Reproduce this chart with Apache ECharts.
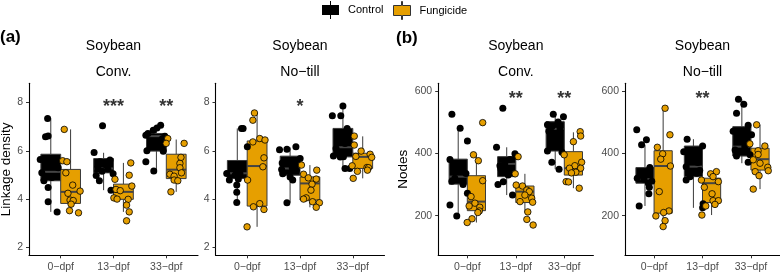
<!DOCTYPE html>
<html><head><meta charset="utf-8">
<script src="https://cdn.jsdelivr.net/npm/echarts@6/dist/echarts.min.js"></script>
<style>html,body{margin:0;padding:0;background:#fff}#chart{width:780px;height:272px}</style>
</head><body><div id="chart"></div>
<script>
// ---------- data ----------
const categories = ['0−dpf', '13−dpf', '33−dpf'];
const groups = ['Control', 'Fungicide'];
const panelTitles = ['Soybean\nConv.', 'Soybean\nNo−till', 'Soybean\nConv.', 'Soybean\nNo−till'];
const panelLetters = ['(a)', '(b)'];
const yNames = ['Linkage density', 'Nodes'];
const yTicksLinkage = [2, 4, 6, 8];
const yTicksNodes = [200, 400, 600];

// box statistics per category: [min, q1, median, q3, max]
const linkConvControlBox = [[3.47, 4.76, 5.13, 5.86, 7.34], [4.37, 5.09, 5.27, 5.68, 5.92], [5.16, 5.99, 6.61, 6.72, 7.06]];
const linkConvFungBox = [[3.43, 3.82, 4.30, 5.23, 6.89], [3.47, 3.99, 4.30, 4.62, 5.50], [4.30, 4.85, 5.22, 5.86, 6.47]];
const linkNoTillControlBox = [[3.86, 4.85, 5.07, 5.60, 6.93], [3.85, 4.99, 5.27, 5.78, 6.14], [5.24, 5.75, 6.15, 6.93, 7.86]];
const linkNoTillFungBox = [[2.85, 3.71, 5.37, 6.41, 7.57], [3.66, 3.96, 4.65, 4.92, 5.41], [4.86, 5.27, 5.75, 5.90, 6.60]];
const nodesConvControlBox = [[199, 301, 325, 381, 482], [266, 325, 366, 389, 419], [349, 407, 478, 501, 525]];
const nodesConvFungBox = [[178, 216, 245, 328, 395], [210, 242, 277, 295, 334], [288, 330, 352, 405, 467]];
const nodesNoTillControlBox = [[231, 304, 317, 354, 427], [225, 325, 357, 423, 445], [368, 391, 421, 485, 573]];
const nodesNoTillFungBox = [[165, 208, 359, 408, 544], [202, 242, 304, 320, 341], [285, 346, 381, 416, 491]];

const linkConvControlPts = [
  [7.34, 6.62, 6.58, 5.64, 5.5, 5.3, 5.09, 4.9, 4.76, 4.48, 3.89, 3.47],
  [7.04, 5.93, 5.62, 5.55, 5.4, 5.3, 5.25, 5.15, 5.05, 4.98, 4.76, 4.37],
  [7.06, 6.95, 6.85, 6.72, 6.65, 6.6, 6.5, 6.31, 6.0, 5.98, 5.55, 5.16]];
const linkConvControlJit = [
  [-0.06, -0.05, -0.10, -0.20, 0.08, 0.14, -0.17, 0.02, -0.13, -0.05, -0.05, 0.12],
  [-0.02, -0.18, 0.12, -0.07, 0.05, -0.11, 0.08, -0.03, 0.18, -0.14, -0.08, 0.14],
  [0.08, 0.01, -0.06, -0.16, -0.20, 0.16, 0.11, 0.16, -0.18, 0.13, -0.20, -0.05]];
const linkConvFungPts = [
  [6.89, 5.59, 5.55, 5.09, 4.58, 4.33, 4.24, 3.96, 3.94, 3.79, 3.52, 3.43],
  [5.50, 4.99, 4.82, 4.54, 4.40, 4.35, 4.05, 4.0, 3.99, 3.75, 3.47, 3.10],
  [6.51, 6.31, 6.31, 5.73, 5.48, 5.3, 5.09, 5.03, 4.95, 4.79, 4.76, 4.30]];
const linkConvFungJit = [
  [-0.12, -0.15, -0.07, -0.09, 0.04, 0.18, -0.05, -0.01, 0.05, 0.01, -0.02, 0.15],
  [0.14, 0.11, -0.16, 0.16, -0.14, -0.06, -0.18, -0.12, 0.09, 0.06, 0.11, 0.06],
  [-0.16, -0.19, 0.15, 0.09, 0.07, 0.07, 0.10, -0.12, -0.04, -0.04, 0.03, -0.10]];

const linkNoTillControlPts = [
  [6.93, 6.93, 6.17, 5.4, 5.06, 5.06, 5.0, 4.83, 4.79, 4.58, 4.28, 3.86],
  [6.17, 6.07, 6.05, 5.68, 5.5, 5.3, 5.23, 5.2, 5.05, 4.92, 4.79, 3.85],
  [7.86, 7.45, 7.45, 6.93, 6.6, 6.3, 6.1, 5.79, 5.76, 5.75, 5.27, 5.27]];
const linkNoTillControlJit = [
  [0.08, 0.11, 0.19, -0.08, -0.20, 0.05, -0.04, 0.02, -0.15, -0.01, -0.01, -0.01],
  [0.11, -0.06, -0.20, 0.19, -0.15, 0.04, -0.16, 0.12, -0.14, 0.0, 0.05, -0.06],
  [0.0, -0.20, -0.04, 0.08, -0.09, 0.04, -0.13, -0.18, 0.01, -0.05, 0.04, 0.13]];
const linkNoTillFungPts = [
  [7.57, 7.27, 6.51, 6.45, 6.37, 5.71, 5.34, 4.79, 3.81, 3.68, 3.57, 2.85],
  [5.41, 5.2, 5.03, 4.88, 4.83, 4.62, 4.37, 4.05, 4.0, 3.89, 3.85, 3.66],
  [6.61, 6.24, 5.99, 5.86, 5.77, 5.73, 5.38, 5.31, 5.3, 5.2, 5.15, 4.86]];
const linkNoTillFungJit = [
  [-0.05, -0.08, 0.05, 0.15, -0.08, 0.13, 0.11, -0.18, 0.05, -0.07, 0.13, -0.19],
  [-0.16, 0.13, -0.12, -0.03, 0.12, 0.04, 0.02, -0.07, -0.12, 0.05, 0.18, 0.12],
  [-0.16, -0.16, -0.03, 0.14, -0.13, 0.17, -0.20, 0.08, 0.11, 0.09, -0.10, -0.18]];

const nodesConvControlPts = [
  [525, 480, 439, 380, 355, 335, 320, 310, 300, 272, 234, 199],
  [544, 419, 398, 390, 380, 366, 360, 350, 330, 309, 300, 266],
  [525, 517, 500, 491, 485, 478, 470, 455, 407, 403, 371, 349]];
const nodesConvControlJit = [
  [-0.13, 0.04, 0.19, -0.17, 0.08, 0.16, -0.07, -0.13, 0.10, 0.19, -0.17, -0.03],
  [-0.08, -0.21, 0.17, 0.19, 0.07, -0.04, -0.14, -0.12, 0.03, -0.07, -0.18, 0.12],
  [-0.04, 0.17, 0.06, -0.16, -0.07, 0.10, -0.13, 0.02, -0.16, 0.14, -0.07, 0.08]];
const nodesConvFungPts = [
  [498, 395, 376, 312, 261, 240, 231, 227, 215, 210, 190, 178],
  [389, 334, 298, 295, 282, 277, 266, 256, 245, 243, 212, 188, 170],
  [469, 455, 437, 395, 371, 360, 352, 352, 339, 337, 309, 308, 288]];
const nodesConvFungJit = [
  [0.13, -0.06, 0.04, 0.13, -0.11, -0.03, -0.15, 0.07, 0.06, 0.03, -0.09, -0.19],
  [-0.14, -0.20, -0.18, -0.05, 0.04, 0.09, 0.0, 0.14, -0.10, 0.16, 0.06, 0.04, 0.17],
  [0.14, 0.15, 0.0, -0.19, 0.17, 0.03, -0.08, 0.15, 0.05, -0.04, -0.15, -0.10, 0.12]];

const nodesNoTillControlPts = [
  [475, 443, 427, 354, 330, 320, 317, 310, 304, 291, 270, 231],
  [445, 423, 405, 390, 370, 357, 345, 336, 325, 314, 238, 225],
  [573, 557, 528, 490, 470, 459, 440, 421, 410, 395, 391, 371]];
const nodesNoTillControlJit = [
  [-0.17, 0.03, -0.07, 0.10, -0.10, -0.16, -0.02, 0.14, 0.07, 0.09, 0.08, -0.12],
  [-0.13, 0.19, -0.20, -0.07, 0.09, -0.15, 0.13, 0.07, -0.07, -0.15, 0.20, 0.19],
  [-0.07, 0.04, -0.11, 0.13, -0.18, 0.20, -0.04, 0.06, -0.14, 0.17, -0.11, 0.13]];
const nodesNoTillFungPts = [
  [544, 459, 419, 398, 381, 359, 277, 215, 210, 199, 184, 165],
  [341, 334, 325, 314, 309, 291, 270, 248, 248, 236, 231, 202],
  [491, 430, 423, 408, 396, 379, 368, 355, 344, 341, 328, 285]];
const nodesNoTillFungJit = [
  [0.04, 0.14, -0.12, -0.01, -0.05, 0.15, -0.08, 0.12, 0.01, -0.15, 0.04, 0.0],
  [0.10, -0.02, 0.03, -0.21, 0.14, -0.15, 0.01, 0.03, 0.14, 0.07, -0.12, -0.20],
  [-0.07, -0.21, 0.10, -0.04, -0.04, -0.14, 0.0, 0.16, 0.17, -0.10, -0.02, -0.14]];

// significance labels per category, and the value at which they sit
const sigLinkConv = ['', '***', '**'];
const sigLinkNoTill = ['', '*', ''];
const sigNodesConv = ['', '**', '**'];
const sigNodesNoTill = ['', '**', ''];
const sigLinkY = 8;
const sigNodesY = 586;

// ---------- layout / styling ----------
const FONT = '"Liberation Sans", Arial, Helvetica, sans-serif';
const fillColors = { Control: '#000000', Fungicide: '#E69F00' };
const lineColor = '#3a3a3a';
const dodge = { Control: -0.1875, Fungicide: 0.1875 };
const halfBox = 0.1875;

const panels = [
  { title: panelTitles[0], left: 29, width: 169, yMin: 1.67, yMax: 8.8, ticks: yTicksLinkage, yName: yNames[0], nameGap: 14,
    box: { Control: linkConvControlBox, Fungicide: linkConvFungBox },
    pts: { Control: linkConvControlPts, Fungicide: linkConvFungPts },
    jit: { Control: linkConvControlJit, Fungicide: linkConvFungJit }, sig: sigLinkConv, sigY: sigLinkY },
  { title: panelTitles[1], left: 215.5, width: 169, yMin: 1.67, yMax: 8.8, ticks: yTicksLinkage, yName: '', nameGap: 0,
    box: { Control: linkNoTillControlBox, Fungicide: linkNoTillFungBox },
    pts: { Control: linkNoTillControlPts, Fungicide: linkNoTillFungPts },
    jit: { Control: linkNoTillControlJit, Fungicide: linkNoTillFungJit }, sig: sigLinkNoTill, sigY: sigLinkY },
  { title: panelTitles[2], left: 438.2, width: 155.2, yMin: 73, yMax: 624, ticks: yTicksNodes, yName: yNames[1], nameGap: 27,
    box: { Control: nodesConvControlBox, Fungicide: nodesConvFungBox },
    pts: { Control: nodesConvControlPts, Fungicide: nodesConvFungPts },
    jit: { Control: nodesConvControlJit, Fungicide: nodesConvFungJit }, sig: sigNodesConv, sigY: sigNodesY },
  { title: panelTitles[3], left: 625, width: 155, yMin: 73, yMax: 624, ticks: yTicksNodes, yName: '', nameGap: 0,
    box: { Control: nodesNoTillControlBox, Fungicide: nodesNoTillFungBox },
    pts: { Control: nodesNoTillControlPts, Fungicide: nodesNoTillFungPts },
    jit: { Control: nodesNoTillControlJit, Fungicide: nodesNoTillFungJit }, sig: sigNodesNoTill, sigY: sigNodesY }
];

function makeBoxRenderer(fill) {
  return function (params, api) {
    const x = api.value(0);
    const pMin = api.coord([x, api.value(1)]);
    const pQ1 = api.coord([x, api.value(2)]);
    const pMed = api.coord([x, api.value(3)]);
    const pQ3 = api.coord([x, api.value(4)]);
    const pMax = api.coord([x, api.value(5)]);
    const xl = api.coord([x - halfBox, api.value(3)])[0];
    const xr = api.coord([x + halfBox, api.value(3)])[0];
    return {
      type: 'group',
      children: [
        { type: 'line', shape: { x1: pMax[0], y1: pMax[1], x2: pQ3[0], y2: pQ3[1] }, style: { stroke: lineColor, lineWidth: 1 } },
        { type: 'line', shape: { x1: pQ1[0], y1: pQ1[1], x2: pMin[0], y2: pMin[1] }, style: { stroke: lineColor, lineWidth: 1 } },
        { type: 'rect', shape: { x: xl, y: pQ3[1], width: xr - xl, height: pQ1[1] - pQ3[1] }, style: { fill: fill, stroke: lineColor, lineWidth: 1 } },
        { type: 'line', shape: { x1: xl, y1: pMed[1], x2: xr, y2: pMed[1] }, style: { stroke: '#444', lineWidth: 2 } }
      ]
    };
  };
}

const grids = [], xAxes = [], yAxes = [], series = [], titles = [];
const labelColor = '#4d4d4d';

panels.forEach((p, i) => {
  grids.push({ left: p.left, top: 83.3, width: p.width, height: 172, outerBoundsMode: 'none', containLabel: false });
  xAxes.push({
    type: 'value', gridIndex: i, min: 0.4, max: 3.6, splitLine: { show: false },
    axisLine: { show: true, onZero: false, lineStyle: { color: '#000', width: 1.1 } },
    axisTick: { show: true, length: 3, customValues: [1, 2, 3], lineStyle: { color: '#333', width: 1 } },
    axisLabel: { customValues: [1, 2, 3], formatter: v => categories[Math.round(v) - 1], color: labelColor, fontSize: 10.5, margin: 6, fontFamily: FONT }
  });
  yAxes.push({
    type: 'value', gridIndex: i, min: p.yMin, max: p.yMax, splitLine: { show: false },
    axisLine: { show: true, onZero: false, lineStyle: { color: '#000', width: 1.1 } },
    axisTick: { show: true, length: 3, customValues: p.ticks, lineStyle: { color: '#333', width: 1 } },
    axisLabel: { customValues: p.ticks, color: labelColor, fontSize: 10.5, margin: 6, fontFamily: FONT },
    name: p.yName, nameLocation: 'middle', nameGap: p.nameGap, nameRotate: 90,
    nameTextStyle: { fontSize: 13.5, color: '#000', fontFamily: FONT }
  });
  titles.push({
    text: p.title, left: p.left + p.width / 2, textAlign: 'center', top: 33, padding: 0,
    textStyle: { fontSize: 14, fontWeight: 'normal', color: '#000', lineHeight: 26, fontFamily: FONT }
  });
  groups.forEach(g => {
    series.push({
      type: 'custom', name: g, xAxisIndex: i, yAxisIndex: i, silent: true, z: 2,
      itemStyle: { color: fillColors[g] },
      renderItem: makeBoxRenderer(fillColors[g]),
      encode: { x: 0, y: [1, 2, 3, 4, 5] },
      data: p.box[g].map((b, k) => [k + 1 + dodge[g]].concat(b))
    });
  });
  groups.forEach(g => {
    const data = [];
    p.pts[g].forEach((arr, k) => arr.forEach((v, j) => data.push([k + 1 + dodge[g] + p.jit[g][k][j], v])));
    series.push({
      type: 'scatter', name: g, xAxisIndex: i, yAxisIndex: i, silent: true, z: 3,
      symbolSize: g === 'Control' ? 7 : 6.5,
      itemStyle: g === 'Control' ? { color: '#000', opacity: 1 } : { color: fillColors[g], borderColor: '#000', borderWidth: 0.8, opacity: 1 },
      data: data
    });
  });
  series.push({
    type: 'scatter', xAxisIndex: i, yAxisIndex: i, silent: true, z: 4, symbolSize: 0,
    data: p.sig.map((s, k) => s ? { name: s, value: [k + 1, p.sigY] } : null).filter(Boolean),
    label: { show: true, position: 'inside', formatter: '{b}', fontSize: 18, fontWeight: 'bold', color: '#000', offset: [0, 4], fontFamily: FONT }
  });
});

titles.push({ text: panelLetters[0], left: 0, top: 29, padding: 0, textStyle: { fontSize: 17, fontWeight: 'bold', color: '#000', fontFamily: FONT } });
titles.push({ text: panelLetters[1], left: 396, top: 30, padding: 0, textStyle: { fontSize: 17, fontWeight: 'bold', color: '#000', fontFamily: FONT } });

const legendIcon = 'path://M8,0H9V4H17V14H9V18H8V14H0V4H8Z';
const legendCommon = {
  top: 1, padding: 0, itemWidth: 17, itemHeight: 18, selectedMode: false, orient: 'horizontal',
  textStyle: { fontSize: 11, color: '#000', fontFamily: FONT, padding: [0, 0, 0, 4] }
};

const option = {
  animation: false,
  backgroundColor: '#fff',
  textStyle: { fontFamily: FONT },
  title: titles,
  legend: [
    Object.assign({}, legendCommon, { left: 322, data: [{ name: 'Control', icon: legendIcon, itemStyle: { color: '#000', borderColor: '#000', borderWidth: 0 } }] }),
    Object.assign({}, legendCommon, { left: 393, data: [{ name: 'Fungicide', icon: legendIcon, itemStyle: { color: '#E69F00', borderColor: '#333', borderWidth: 1 } }] })
  ],
  grid: grids,
  xAxis: xAxes,
  yAxis: yAxes,
  series: series
};

const chart = echarts.init(document.getElementById('chart'), null, { renderer: 'canvas' });
chart.setOption(option);
</script>
</body></html>
